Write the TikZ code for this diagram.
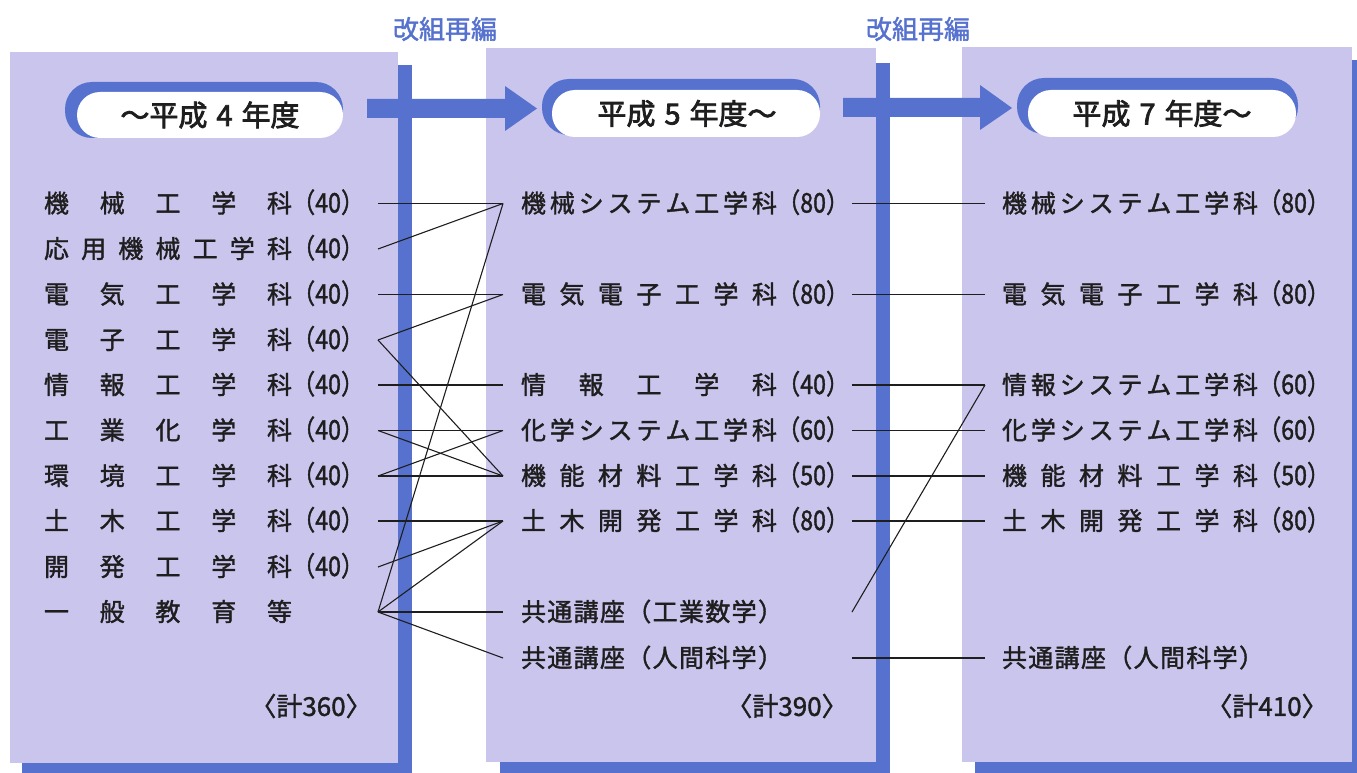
\documentclass[tikz,border=0pt]{standalone}
\usepackage{fontspec}
\usepackage{graphicx}
\setmainfont{Noto Sans CJK JP}
\newfontfamily\jprow{Noto Sans CJK JP}[FakeBold=1.5]
\newfontfamily\jpheavy{Noto Sans CJK JP}[FakeBold=2.5]
\definecolor{lav}{RGB}{202,197,237}
\definecolor{blu}{RGB}{86,114,206}
\definecolor{ink}{RGB}{30,30,30}
\newcommand\jst[2]{\makebox[#1][s]{#2}}
\newcommand\num[1]{{\fontsize{27}{27}\selectfont\scalebox{0.86}[1]{#1}}}
\newcommand\rowA[2]{\makebox[334pt][l]{\jst{248pt}{#1}\num{#2}}}
\newcommand\rowB[2]{\makebox[349pt][l]{\hspace{18pt}\jst{256pt}{#1}\num{#2}}}
\newcommand\rowC[2]{\makebox[320pt][l]{\hspace{17pt}\jst{256pt}{#1}\num{#2}}}
\newcommand\rowK[1]{\makebox[349pt][l]{\hspace{18pt}\jst{262pt}{#1}}}
\newcommand\rowKC[1]{\makebox[320pt][l]{\hspace{17pt}\jst{262pt}{#1}}}
\tikzset{
  shadowbox/.style={fill=blu, draw=none},
  panelbox/.style={fill=lav, draw=none},
  pillback/.style={fill=blu, rounded corners=27pt},
  pillfront/.style={fill=white, rounded corners=23pt},
  flowarrow/.style={fill=blu},
  title/.style={inner sep=0pt, font=\jpheavy\fontsize{29}{29}\selectfont, text=ink},
  reorg/.style={inner sep=0pt, font=\jprow\fontsize{26}{26}\selectfont, text=blu},
  row/.style={anchor=west, inner sep=0pt, outer sep=0pt, font=\jprow\fontsize{25}{25}\selectfont, text=ink, text height=21pt, text depth=3pt},
  total/.style={inner sep=0pt, font=\jprow\fontsize{26}{26}\selectfont, text=ink},
  link/.style={draw=ink, line width=1.1pt}
}
\begin{document}
\begin{tikzpicture}[x=1pt,y=-1pt]
\useasboundingbox (0,0) rectangle (1357,773);
% panels with shadows
\fill[shadowbox] (22,65) rectangle (412,773);
\fill[panelbox] (10,52) rectangle (398,763);
\fill[shadowbox] (500,63) rectangle (890,773);
\fill[panelbox] (486,48) rectangle (876,762);
\fill[shadowbox] (975,60) rectangle (1357,773);
\fill[panelbox] (962,47) rectangle (1352,762);
% header pills
\fill[pillback] (65,82) rectangle (343,138);
\fill[pillfront] (77,92) rectangle (343,138);
\fill[pillback] (542,79) rectangle (820,135);
\fill[pillfront] (552,90) rectangle (820,137);
\fill[pillback] (1017,78) rectangle (1298,134);
\fill[pillfront] (1028,90) rectangle (1296,137);
\node[title] (h1) at (210,115) {〜平成\hspace{9pt}4\hspace{9pt}年度};
\node[title] (h2) at (687,113.5) {平成\hspace{9pt}5\hspace{9pt}年度〜};
\node[title] (h3) at (1162,113.5) {平成\hspace{9pt}7\hspace{9pt}年度〜};
% flow arrows
\fill[flowarrow] (367,99) -- (505,99) -- (505,86) -- (537,108.5) -- (505,131) -- (505,118) -- (367,118) -- cycle;
\fill[flowarrow] (843,98) -- (980,98) -- (980,85) -- (1012,108) -- (980,130) -- (980,117) -- (843,117) -- cycle;
\node[reorg] (r1) at (445,29) {改組再編};
\node[reorg] (r2) at (918,29) {改組再編};
% panel 1 rows
\node[row] (a1) at (44,203.5) {\rowA{機\hfill 械\hfill 工\hfill 学\hfill 科}{（40）}};
\node[row] (a2) at (44,249) {\rowA{応\hfill 用\hfill 機\hfill 械\hfill 工\hfill 学\hfill 科}{（40）}};
\node[row] (a3) at (44,294.5) {\rowA{電\hfill 気\hfill 工\hfill 学\hfill 科}{（40）}};
\node[row] (a4) at (44,340) {\rowA{電\hfill 子\hfill 工\hfill 学\hfill 科}{（40）}};
\node[row] (a5) at (44,385) {\rowA{情\hfill 報\hfill 工\hfill 学\hfill 科}{（40）}};
\node[row] (a6) at (44,430.5) {\rowA{工\hfill 業\hfill 化\hfill 学\hfill 科}{（40）}};
\node[row] (a7) at (44,476) {\rowA{環\hfill 境\hfill 工\hfill 学\hfill 科}{（40）}};
\node[row] (a8) at (44,521) {\rowA{土\hfill 木\hfill 工\hfill 学\hfill 科}{（40）}};
\node[row] (a9) at (44,567) {\rowA{開\hfill 発\hfill 工\hfill 学\hfill 科}{（40）}};
\node[row] (a10) at (44,612) {\rowA{一\hfill 般\hfill 教\hfill 育\hfill 等}{}};
% panel 2 rows
\node[row] (b1) at (503,203.5) {\rowB{機\hfill 械\hfill シ\hfill ス\hfill テ\hfill ム\hfill 工\hfill 学\hfill 科}{（80）}};
\node[row] (b2) at (503,294.5) {\rowB{電\hfill 気\hfill 電\hfill 子\hfill 工\hfill 学\hfill 科}{（80）}};
\node[row] (b3) at (503,385) {\rowB{情\hfill 報\hfill 工\hfill 学\hfill 科}{（40）}};
\node[row] (b4) at (503,430.5) {\rowB{化\hfill 学\hfill シ\hfill ス\hfill テ\hfill ム\hfill 工\hfill 学\hfill 科}{（60）}};
\node[row] (b5) at (503,476) {\rowB{機\hfill 能\hfill 材\hfill 料\hfill 工\hfill 学\hfill 科}{（50）}};
\node[row] (b6) at (503,521) {\rowB{土\hfill 木\hfill 開\hfill 発\hfill 工\hfill 学\hfill 科}{（80）}};
\node[row] (b7) at (503,612) {\rowK{共\hfill 通\hfill 講\hfill 座\hfill （\hfill 工\hfill 業\hfill 数\hfill 学\hfill ）}};
\node[row] (b8) at (503,658) {\rowK{共\hfill 通\hfill 講\hfill 座\hfill （\hfill 人\hfill 間\hfill 科\hfill 学\hfill ）}};
% panel 3 rows
\node[row] (c1) at (985,203.5) {\rowC{機\hfill 械\hfill シ\hfill ス\hfill テ\hfill ム\hfill 工\hfill 学\hfill 科}{（80）}};
\node[row] (c2) at (985,294.5) {\rowC{電\hfill 気\hfill 電\hfill 子\hfill 工\hfill 学\hfill 科}{（80）}};
\node[row] (c3) at (985,385) {\rowC{情\hfill 報\hfill シ\hfill ス\hfill テ\hfill ム\hfill 工\hfill 学\hfill 科}{（60）}};
\node[row] (c4) at (985,430.5) {\rowC{化\hfill 学\hfill シ\hfill ス\hfill テ\hfill ム\hfill 工\hfill 学\hfill 科}{（60）}};
\node[row] (c5) at (985,476) {\rowC{機\hfill 能\hfill 材\hfill 料\hfill 工\hfill 学\hfill 科}{（50）}};
\node[row] (c6) at (985,521) {\rowC{土\hfill 木\hfill 開\hfill 発\hfill 工\hfill 学\hfill 科}{（80）}};
\node[row] (c7) at (985,658) {\rowKC{共\hfill 通\hfill 講\hfill 座\hfill （\hfill 人\hfill 間\hfill 科\hfill 学\hfill ）}};
% totals
\node[total] (t1) at (311,706) {〈計360〉};
\node[total] (t2) at (787,706) {〈計390〉};
\node[total] (t3) at (1267,706) {〈計410〉};
% connectors, first reorganisation
\draw[link] (a1.east) -- (b1.west);
\draw[link] (a2.east) -- (b1.west);
\draw[link] (a3.east) -- (b2.west);
\draw[link] (a4.east) -- (b2.west);
\draw[link] (a4.east) -- (b5.west);
\draw[link] (a5.east) -- (b3.west);
\draw[link] (a6.east) -- (b4.west);
\draw[link] (a6.east) -- (b5.west);
\draw[link] (a7.east) -- (b5.west);
\draw[link] (a7.east) -- (b4.west);
\draw[link] (a8.east) -- (b6.west);
\draw[link] (a9.east) -- (b6.west);
\draw[link] (a10.east) -- (b6.west);
\draw[link] (a10.east) -- (b1.west);
\draw[link] (a10.east) -- (b7.west);
\draw[link] (a10.east) -- (b8.west);
% connectors, second reorganisation
\draw[link] (b1.east) -- (c1.west);
\draw[link] (b2.east) -- (c2.west);
\draw[link] (b3.east) -- (c3.west);
\draw[link] (b4.east) -- (c4.west);
\draw[link] (b5.east) -- (c5.west);
\draw[link] (b6.east) -- (c6.west);
\draw[link] (b8.east) -- (c7.west);
\draw[link] (b7.east) -- (c3.west);
\end{tikzpicture}
\end{document}
